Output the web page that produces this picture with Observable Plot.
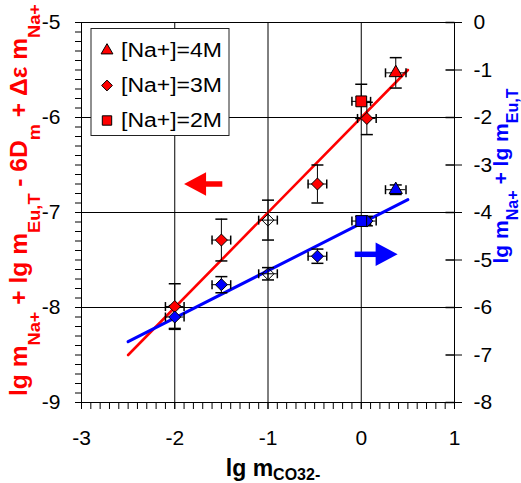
<!DOCTYPE html>
<html><head><meta charset="utf-8">
<script src="https://cdn.jsdelivr.net/npm/d3@7"></script>
<script src="https://cdn.jsdelivr.net/npm/@observablehq/plot@0.6"></script>
<style>
body{margin:0;background:#fff;}
#chart svg{font-family:"Liberation Sans",Arial,Helvetica,sans-serif;overflow:visible;}
</style>
</head><body><div id="chart"></div>
<script>
// ---------- data ----------
const xTicks = [-3, -2, -1, 0, 1];
const leftTicks = [-9, -8, -7, -6, -5];
const rightTicks = [0, -1, -2, -3, -4, -5, -6, -7, -8];
const gridX = [-2, -1, 0];
const gridY = [-8, -7, -6];

// red series (left axis)
const redX     = [0.37, 0.00, 0.06, -0.47, -1.50, -2.00];
const redY     = [-5.53, -5.83, -6.01, -6.70, -7.29, -7.99];
const redXErr  = [0.11, 0.10, 0.10, 0.10, 0.10, 0.10];
const redYErr  = [0.16, 0.18, 0.17, 0.20, 0.22, 0.24];
const redShape = ["4M", "2M", "3M", "3M", "3M", "3M"];

// blue series (right axis)
const blueX     = [0.37, 0.06, 0.00, -0.47, -1.50, -2.00];
const blueY     = [-3.52, -4.18, -4.18, -4.92, -5.52, -6.20];
const blueXErr  = [0.11, 0.10, 0.10, 0.10, 0.10, 0.10];
const blueYErr  = [0.10, 0.10, 0.10, 0.15, 0.17, 0.24];
const blueShape = ["4M", "3M", "2M", "3M", "3M", "3M"];

// open (excluded) points at lg m = -1
const openX    = [-1.00, -1.00];
const openY    = [-7.08, -5.29];
const openAxis = ["left", "right"];
const openXErr = [0.10, 0.10];
const openYErr = [0.21, 0.13];

// fitted lines
const redFitX  = [-2.5, 0.5];
const redFitY  = [-8.50, -5.50];
const blueFitX = [-2.5, 0.5];
const blueFitY = [-6.72, -3.73];

// arrows (tail, tip, y)
const redArrow  = {tail: -1.49, tip: -1.90, y: -6.70};
const blueArrow = {tail: -0.07, tip: 0.39, y: -4.88};

const legendLabels = ["[Na+]=4M", "[Na+]=3M", "[Na+]=2M"];
const legendShapes = ["4M", "3M", "2M"];

// ---------- helpers ----------
const RED = "#ff0000", BLUE = "#0000ff";
const toLeft = r => r / 2 - 5;
const toRight = l => Math.round((l + 5) * 2);

const diamond = {draw(ctx, size) { const h = Math.sqrt(size / 2); ctx.moveTo(0, -h); ctx.lineTo(h, 0); ctx.lineTo(0, h); ctx.lineTo(-h, 0); ctx.closePath(); }};
const hcap = {draw(ctx) { ctx.moveTo(-6, 0); ctx.lineTo(6, 0); }};
const vcap = {draw(ctx) { ctx.moveTo(0, -4.5); ctx.lineTo(0, 4.5); }};
const inTick = {draw(ctx) { ctx.moveTo(-9, 0); ctx.lineTo(0, 0); }};
const headLeft = {draw(ctx) { ctx.moveTo(0, 0); ctx.lineTo(22, -11.7); ctx.lineTo(22, 11.7); ctx.closePath(); }};
const headRight = {draw(ctx) { ctx.moveTo(0, 0); ctx.lineTo(-22, -11.7); ctx.lineTo(-22, 11.7); ctx.closePath(); }};

const shapeSym = {"4M": "triangle", "3M": diamond, "2M": "square"};
const shapeR = {"4M": 4.9, "3M": 4.8, "2M": 6.1};

const pts = [];
redX.forEach((x, i) => pts.push({x, y: redY[i], ex: redXErr[i], ey: redYErr[i], shape: redShape[i], fill: RED}));
blueX.forEach((x, i) => pts.push({x, y: toLeft(blueY[i]), ex: blueXErr[i], ey: blueYErr[i] / 2, shape: blueShape[i], fill: BLUE}));
openX.forEach((x, i) => {
  const y = openAxis[i] === "left" ? openY[i] : toLeft(openY[i]);
  const ey = openAxis[i] === "left" ? openYErr[i] : openYErr[i] / 2;
  pts.push({x, y, ex: openXErr[i], ey, shape: "3M", fill: "none"});
});

const redFit = redFitX.map((x, i) => ({x, y: redFitY[i]}));
const blueFit = blueFitX.map((x, i) => ({x, y: toLeft(blueFitY[i])}));
const arrows = [
  {tail: redArrow.tail, tip: redArrow.tip, y: redArrow.y, color: RED, head: headLeft},
  {tail: blueArrow.tail, tip: blueArrow.tip, y: toLeft(blueArrow.y), color: BLUE, head: headRight}
];

const minorX = d3.range(-30, 11).map(d => d / 10);
const minorY = d3.range(-90, -49).map(d => d / 10);

const dotMarks = ["3M", "2M", "4M"].map(s =>
  Plot.dot(pts.filter(p => p.shape === s), {
    x: "x", y: "y", symbol: shapeSym[s], r: shapeR[s],
    fill: d => d.fill, stroke: "#000", strokeWidth: 1
  })
);

const plot = Plot.plot({
  width: 521, height: 483,
  marginLeft: 81, marginRight: 67, marginTop: 22, marginBottom: 81,
  style: {fontFamily: '"Liberation Sans", Arial, sans-serif', color: "#000", background: "#fff"},
  x: {domain: [-3, 1]},
  y: {domain: [-9, -5]},
  marks: [
    Plot.ruleX(gridX, {stroke: "#000", strokeWidth: 1}),
    Plot.ruleY(gridY, {stroke: "#000", strokeWidth: 1}),
    Plot.frame({stroke: "#000", strokeWidth: 1}),
    // left axis
    Plot.axisY({ticks: minorY, tickSize: 6, tickFormat: () => "", label: null}),
    Plot.axisY({ticks: leftTicks, tickSize: 6, tickPadding: 15, tickFormat: d => String(d), fontSize: 21, label: null}),
    // right axis
    Plot.axisY({anchor: "right", ticks: rightTicks.map(toLeft), tickSize: 7, tickPadding: 12,
      tickFormat: d => String(toRight(d)), fontSize: 21, label: null}),
    Plot.dot(rightTicks.map(toLeft), {y: d => d, frameAnchor: "right", symbol: inTick, stroke: "#000", fill: "none", r: 3}),
    // x axis
    Plot.axisX({ticks: minorX, tickSize: 7, tickFormat: () => "", label: null}),
    Plot.axisX({ticks: xTicks, tickSize: 7, tickPadding: 21, tickFormat: d => String(d), fontSize: 21, label: null}),
    // fits
    Plot.line(redFit, {x: "x", y: "y", stroke: RED, strokeWidth: 2.6}),
    Plot.line(blueFit, {x: "x", y: "y", stroke: BLUE, strokeWidth: 3}),
    // arrows
    ...arrows.map(a => Plot.link([a], {x1: "tail", x2: d => (d.tail + d.tip) / 2, y1: "y", y2: "y", stroke: a.color, strokeWidth: 5.5})),
    ...arrows.map(a => Plot.dot([a], {x: "tip", y: "y", symbol: a.head, fill: a.color, stroke: "none", r: 5})),
    // error bars
    Plot.ruleX(pts, {x: "x", y1: d => d.y - d.ey, y2: d => d.y + d.ey, stroke: "#000", strokeWidth: 1}),
    Plot.ruleY(pts, {y: "y", x1: d => d.x - d.ex, x2: d => d.x + d.ex, stroke: "#000", strokeWidth: 1}),
    Plot.dot(pts, {x: "x", y: d => d.y - d.ey, symbol: hcap, stroke: "#000", fill: "none", r: 3}),
    Plot.dot(pts, {x: "x", y: d => d.y + d.ey, symbol: hcap, stroke: "#000", fill: "none", r: 3}),
    Plot.dot(pts, {x: d => d.x - d.ex, y: "y", symbol: vcap, stroke: "#000", fill: "none", r: 3}),
    Plot.dot(pts, {x: d => d.x + d.ex, y: "y", symbol: vcap, stroke: "#000", fill: "none", r: 3}),
    ...dotMarks
  ]
});

document.getElementById("chart").appendChild(plot);

// ---------- legend and axis titles ----------
const svg = d3.select(plot);
const mL = 81, mT = 22;
const lg = svg.append("g").attr("transform", `translate(${mL + 10},${mT + 6.5})`);
lg.append("rect").attr("width", 138).attr("height", 107).attr("fill", "#fff").attr("stroke", "#222").attr("stroke-width", 1);
const symSize = {"4M": Math.PI * 4.4 * 4.4, "3M": Math.PI * 4.3 * 4.3, "2M": Math.PI * 5.3 * 5.3};
legendLabels.forEach((lab, i) => {
  const cy = 22 + i * 35;
  const s = legendShapes[i];
  lg.append("path").attr("transform", `translate(16,${cy})`)
    .attr("d", d3.symbol(s === "4M" ? d3.symbolTriangle : s === "2M" ? d3.symbolSquare : diamond, symSize[s])())
    .attr("fill", RED).attr("stroke", "#000");
  lg.append("text").attr("x", 30).attr("y", cy + 6.5).attr("font-size", 20).attr("text-anchor", "start")
    .attr("fill", "#000").attr("textLength", 101).attr("lengthAdjust", "spacingAndGlyphs").text(lab);
});

function titled(parts, opts) {
  const t = svg.append("text").attr("transform", opts.transform).attr("text-anchor", "middle")
    .attr("fill", opts.color).attr("font-weight", "bold");
  if (opts.length) t.attr("textLength", opts.length).attr("lengthAdjust", "spacingAndGlyphs");
  let shifted = false;
  parts.forEach(([txt, sub]) => {
    const ts = t.append("tspan").text(txt).attr("font-size", sub ? opts.sub : opts.main);
    if (sub && !shifted) { ts.attr("dy", opts.shift); shifted = true; }
    else if (!sub && shifted) { ts.attr("dy", -opts.shift); shifted = false; }
  });
  return t;
}
titled([["lg m", 0], ["Na+", 1], [" + lg m", 0], ["Eu,T", 1], [" - 6D", 0], ["m", 1], [" + Δε m", 0], ["Na+", 1]],
  {transform: "translate(27,200) rotate(-90)", color: RED, main: 23, sub: 17, shift: 13, length: 392});
titled([["lg m", 0], ["Na+", 1], [" + lg m", 0], ["Eu,T", 1]],
  {transform: "translate(508,176) rotate(-90)", color: BLUE, main: 21, sub: 16, shift: 10, length: 175});
titled([["lg m", 0], ["CO32-", 1]],
  {transform: "translate(273,476)", color: "#000", main: 23, sub: 16, shift: 4});
</script>
</body></html>
